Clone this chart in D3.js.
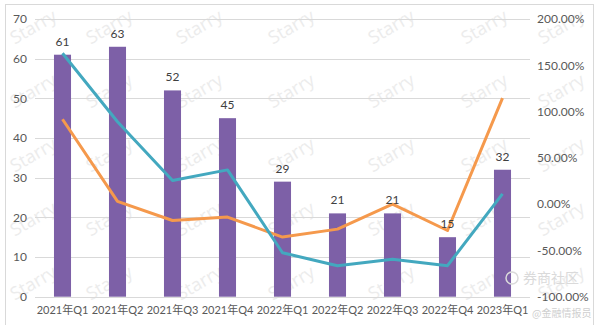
<!DOCTYPE html>
<html><head><meta charset="utf-8">
<script src="https://cdn.jsdelivr.net/npm/d3@7"></script>
<style>body{margin:0;background:#fff;}svg{display:block;font-family:Lato,"Noto Sans CJK SC",sans-serif;}</style>
</head><body>
<svg id="c" width="599" height="325"></svg>
<script>
const categories = ["2021年Q1","2021年Q2","2021年Q3","2021年Q4","2022年Q1","2022年Q2","2022年Q3","2022年Q4","2023年Q1"];
const counts = [61,63,52,45,29,21,21,15,32];
const blueRate = [1.63,0.89,0.255,0.37,-0.525,-0.665,-0.595,-0.665,0.11];
const orangeRate = [0.917,0.03,-0.177,-0.14,-0.356,-0.27,0.0,-0.285,1.145];
const leftTicks = [0,10,20,30,40,50,60,70];
const rightTicks = [-1,-0.5,0,0.5,1,1.5,2];

const svg = d3.select("#c");
const L=35,R=530,T=19,B=296.7;
const FONT = "Lato,'Noto Sans CJK SC',sans-serif";

// chart border
svg.append("rect").attr("x",5.5).attr("y",4.5).attr("width",588).attr("height",330).attr("fill","none").attr("stroke","#d9d9d9");

// watermarks
const wm = svg.append("g").attr("font-family","'Open Sans',sans-serif");
const wmX=[34,110,200,292,392,485,562];
for(let r=0;r<5;r++){
  const yy=28+r*64;
  wmX.forEach(xx=>{
    wm.append("text").attr("transform",`translate(${xx},${yy}) rotate(-30)`).attr("text-anchor","middle")
      .attr("dominant-baseline","middle").attr("font-size",18).attr("fill","#ececec").text("Starry");
  });
}

const x = d3.scaleBand().domain(categories).range([L,R]).paddingInner(0.69).paddingOuter(0.345);
const y = d3.scaleLinear().domain([0,70]).range([B,T]);
const y2 = d3.scaleLinear().domain([-1,2]).range([B,T]);

// gridlines
svg.append("g").selectAll("line").data(leftTicks).join("line")
  .attr("x1",L).attr("x2",R).attr("y1",d=>Math.round(y(d))+0.5).attr("y2",d=>Math.round(y(d))+0.5)
  .attr("stroke","#d9d9d9").attr("stroke-width",1);

// left axis
const ax = d3.axisLeft(y).tickValues(leftTicks).tickSize(0).tickPadding(8);
const gL = svg.append("g").attr("transform",`translate(${L},0)`).call(ax);
gL.select(".domain").remove();
gL.selectAll("text").attr("font-size",12).attr("fill","#595959").attr("font-family",FONT);

// right axis
const ax2 = d3.axisRight(y2).tickValues(rightTicks).tickSize(0).tickPadding(7).tickFormat(d=>(d*100).toFixed(2)+"%");
const gR = svg.append("g").attr("transform",`translate(${R},0)`).call(ax2);
gR.select(".domain").remove();
gR.selectAll("text").attr("font-size",12).attr("fill","#595959").attr("font-family",FONT);

// bottom axis
const ax3 = d3.axisBottom(x).tickSize(0).tickPadding(10);
const gB = svg.append("g").attr("transform",`translate(0,${B})`).call(ax3);
gB.select(".domain").remove();
gB.selectAll("text").attr("font-size",11).attr("fill","#595959").attr("font-family",FONT);

// bars
svg.append("g").selectAll("rect").data(counts).join("rect")
  .attr("x",(d,i)=>x(categories[i])).attr("width",x.bandwidth())
  .attr("y",d=>y(d)).attr("height",d=>B-y(d)).attr("fill","#7d60a7");

// lines
const line = d3.line().x((d,i)=>x(categories[i])+x.bandwidth()/2).y(d=>y2(d));
svg.append("path").datum(orangeRate).attr("d",line).attr("fill","none").attr("stroke","#f5994c").attr("stroke-width",3).attr("stroke-linejoin","round");
svg.append("path").datum(blueRate).attr("d",line).attr("fill","none").attr("stroke","#43a8bf").attr("stroke-width",3).attr("stroke-linejoin","round");

// bar labels
svg.append("g").selectAll("text").data(counts).join("text")
  .attr("x",(d,i)=>x(categories[i])+x.bandwidth()/2).attr("y",d=>y(d)-9)
  .attr("text-anchor","middle").attr("font-size",12).attr("fill","#404040").attr("font-family",FONT).text(d=>d);

// corner watermark
svg.append("circle").attr("cx",512).attr("cy",278).attr("r",6).attr("fill","none").attr("stroke","#dadada").attr("stroke-width",1.5);
svg.append("text").attr("x",523).attr("y",283).attr("font-size",14).attr("fill","#dadada").attr("font-family","'Noto Sans CJK SC',sans-serif").text("券商社区");
svg.append("text").attr("x",532).attr("y",317).attr("font-size",10).attr("fill","#cfcfcf").attr("font-family","'Noto Sans CJK SC',sans-serif").text("@金融情报员");
</script>
</body></html>
